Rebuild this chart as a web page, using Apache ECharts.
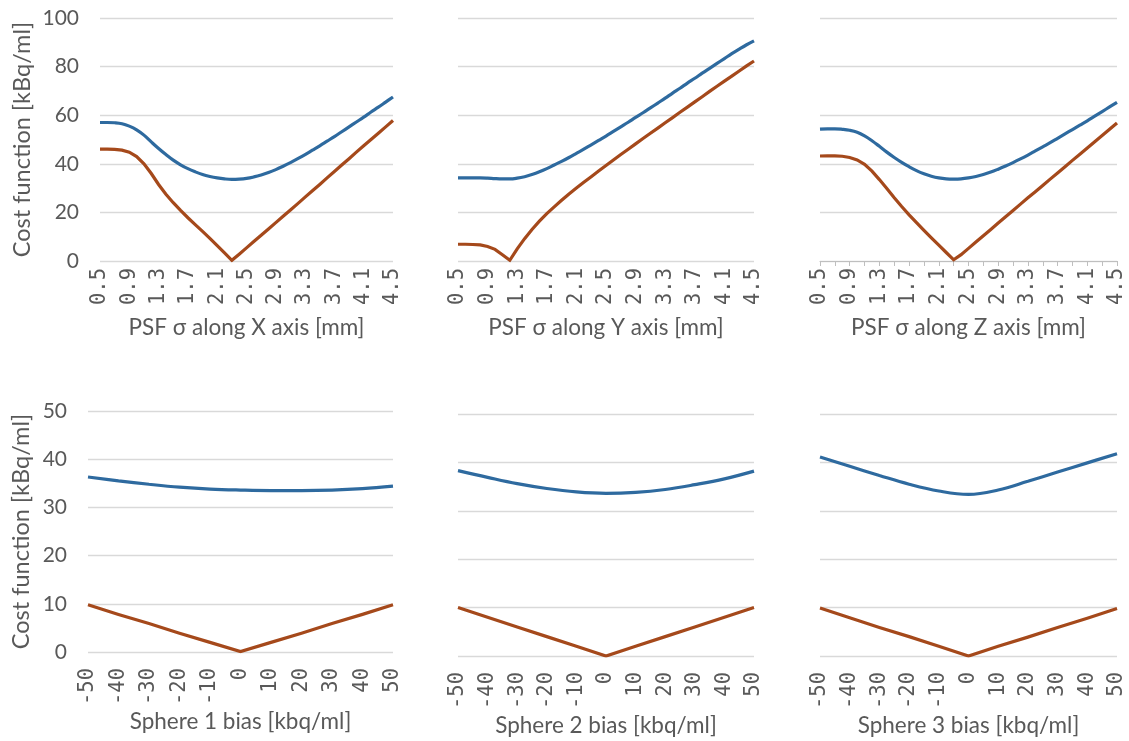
<!DOCTYPE html>
<html>
<head>
<meta charset="utf-8">
<script src="https://cdn.jsdelivr.net/npm/echarts@6/dist/echarts.min.js"></script>
<style>
  html, body { margin: 0; padding: 0; background: #ffffff; }
  #chart { width: 1129px; height: 741px; }
</style>
</head>
<body>
<div id="chart"></div>
<script>
// PSF width categories (mm), 0.1 mm steps
const psfSigma = ['0.5','0.6','0.7','0.8','0.9','1.0','1.1','1.2','1.3','1.4','1.5','1.6','1.7','1.8','1.9','2.0','2.1','2.2','2.3','2.4','2.5',
                  '2.6','2.7','2.8','2.9','3.0','3.1','3.2','3.3','3.4','3.5','3.6','3.7','3.8','3.9','4.0','4.1','4.2','4.3','4.4','4.5'];
// Sphere activity bias categories (kBq/ml)
const sphereBias = ['-50','-40','-30','-20','-10','0','10','20','30','40','50'];

// Cost function along X
const psfXBlue   = [57.0,57.0,56.9,56.5,55.5,54.0,51.8,49.0,46.3,43.8,41.5,39.6,38.0,36.7,35.6,34.8,34.2,33.8,33.6,33.7,34.0,
                    34.6,35.4,36.4,37.6,39.0,40.5,42.1,43.8,45.6,47.4,49.3,51.2,53.2,55.2,57.2,59.2,61.3,63.3,65.4,67.5];
const psfXOrange = [46.0,46.0,45.9,45.6,44.8,43.0,40.0,36.0,31.5,27.5,24.0,20.8,17.8,15.0,12.2,9.3,6.3,3.3,0.3,2.8,5.4,
                    8.0,10.6,13.2,15.8,18.4,21.0,23.6,26.3,28.9,31.5,34.2,36.8,39.5,42.1,44.8,47.4,50.0,52.6,55.2,57.8];
// Cost function along Y
const psfYBlue   = [34.2,34.2,34.2,34.2,34.1,33.9,33.8,33.8,34.1,34.7,35.6,36.7,38.0,39.5,41.0,42.6,44.3,46.0,47.8,49.6,51.4,
                    53.3,55.2,57.1,59.1,61.0,63.0,65.0,67.0,69.1,71.1,73.2,75.2,77.3,79.3,81.3,83.3,85.3,87.2,89.0,90.6];
const psfYOrange = [6.9,6.9,6.8,6.6,6.0,4.8,2.6,0.3,5.0,9.2,13.0,16.4,19.5,22.3,25.0,27.6,30.0,32.4,34.7,37.0,39.3,
                    41.6,43.8,46.0,48.2,50.4,52.6,54.7,56.9,59.0,61.2,63.3,65.5,67.6,69.8,71.9,74.0,76.1,78.2,80.3,82.3];
// Cost function along Z
const psfZBlue   = [54.3,54.4,54.4,54.2,53.8,53.0,51.5,49.5,47.2,44.8,42.6,40.6,38.8,37.2,35.9,34.9,34.2,33.8,33.7,33.8,34.2,
                    34.8,35.6,36.6,37.8,39.1,40.5,42.0,43.6,45.3,47.0,48.7,50.5,52.3,54.1,55.9,57.7,59.6,61.5,63.4,65.3];
const psfZOrange = [43.2,43.3,43.3,43.1,42.6,41.6,39.8,37.0,33.5,29.8,26.0,22.4,19.0,15.8,12.6,9.5,6.5,3.5,0.5,2.6,5.2,
                    7.8,10.4,13.0,15.6,18.2,20.8,23.4,26.0,28.5,31.1,33.7,36.2,38.8,41.4,43.9,46.5,49.1,51.6,54.2,56.8];
// Cost function versus sphere bias
const sphere1Blue   = [36.3,35.5,34.8,34.2,33.8,33.6,33.5,33.5,33.6,33.9,34.4];
const sphere1Orange = [9.8,7.8,5.9,3.9,2.0,0.1,2.0,3.9,5.9,7.8,9.8];
const sphere2Blue   = [38.3,36.9,35.6,34.6,33.9,33.6,33.8,34.4,35.4,36.6,38.2];
const sphere2Orange = [10.0,8.0,6.0,4.0,2.0,0.0,2.0,4.0,6.0,8.0,10.0];
const sphere3Blue   = [41.1,39.2,37.3,35.5,34.1,33.4,34.3,36.1,38.0,39.9,41.8];
const sphere3Orange = [9.9,7.9,5.9,4.0,2.0,0.0,2.0,3.9,5.9,7.8,9.8];

const psfNames  = ['PSF σ along X axis [mm]', 'PSF σ along Y axis [mm]', 'PSF σ along Z axis [mm]'];
const biasNames = ['Sphere 1 bias [kbq/ml]', 'Sphere 2 bias [kbq/ml]', 'Sphere 3 bias [kbq/ml]'];
const yAxisName = 'Cost function [kBq/ml]';

const BLUE = '#2E6A9F';
const ORANGE = '#A5491B';
const TEXT = '#595959';
const GRID = '#d9d9d9';
const SANS = 'Lato, "Open Sans", sans-serif';
const MONO = '"DejaVu Sans Mono", monospace';

const grids = [
  { left: 100, top: 18,  width: 293, height: 243 },
  { left: 458, top: 18,  width: 296, height: 243 },
  { left: 820, top: 18,  width: 297, height: 243 },
  { left: 88,  top: 411, width: 305, height: 241 },
  { left: 458, top: 414, width: 296, height: 242 },
  { left: 820, top: 414, width: 297, height: 242 }
];

const panels = [
  { cats: psfSigma,   name: psfNames[0],  blue: psfXBlue,    orange: psfXOrange,    top: true },
  { cats: psfSigma,   name: psfNames[1],  blue: psfYBlue,    orange: psfYOrange,    top: true },
  { cats: psfSigma,   name: psfNames[2],  blue: psfZBlue,    orange: psfZOrange,    top: true, ticks: true },
  { cats: sphereBias, name: biasNames[0], blue: sphere1Blue, orange: sphere1Orange, top: false },
  { cats: sphereBias, name: biasNames[1], blue: sphere2Blue, orange: sphere2Orange, top: false },
  { cats: sphereBias, name: biasNames[2], blue: sphere3Blue, orange: sphere3Orange, top: false }
];

const xAxes = [], yAxes = [], series = [];
panels.forEach((p, i) => {
  const firstCol = (i % 3 === 0);
  xAxes.push({
    type: 'category', gridIndex: i, data: p.cats, boundaryGap: false,
    name: p.name, nameLocation: 'middle', nameGap: p.top ? 55 : 58,
    nameTextStyle: { color: TEXT, fontFamily: SANS, fontSize: 22.5 },
    axisLine: { show: !!p.ticks, lineStyle: { color: '#bfbfbf', width: 1 } },
    axisTick: { show: !!p.ticks, interval: 1, length: 5, lineStyle: { color: '#bfbfbf' } },
    axisLabel: {
      rotate: 90, interval: p.top ? 3 : 0, margin: p.top ? 7 : 16,
      color: TEXT, fontFamily: MONO, fontSize: 20.5
    },
    splitLine: { show: false }
  });
  yAxes.push({
    type: 'value', gridIndex: i, min: 0, max: p.top ? 100 : 50, interval: p.top ? 20 : 10,
    name: firstCol ? yAxisName : '', nameLocation: 'middle', nameGap: p.top ? 66 : 55,
    nameTextStyle: { color: TEXT, fontFamily: SANS, fontSize: 23.5 },
    axisLine: { show: false }, axisTick: { show: false },
    axisLabel: { show: firstCol, margin: 21, color: TEXT, fontFamily: SANS, fontSize: 21 },
    splitLine: { show: true, lineStyle: { color: GRID, width: 1.3 } }
  });
  series.push({
    type: 'line', xAxisIndex: i, yAxisIndex: i, data: p.blue,
    smooth: 0.4, symbol: 'none', lineStyle: { color: BLUE, width: 3.2 }, z: 3
  });
  series.push({
    type: 'line', xAxisIndex: i, yAxisIndex: i, data: p.orange,
    smooth: false, symbol: 'none', lineStyle: { color: ORANGE, width: 3.2, join: 'miter' }, z: 3
  });
});

const chart = echarts.init(document.getElementById('chart'), null, { renderer: 'canvas' });
chart.setOption({
  animation: false,
  backgroundColor: '#ffffff',
  grid: grids,
  xAxis: xAxes,
  yAxis: yAxes,
  series: series
});
</script>
</body>
</html>
